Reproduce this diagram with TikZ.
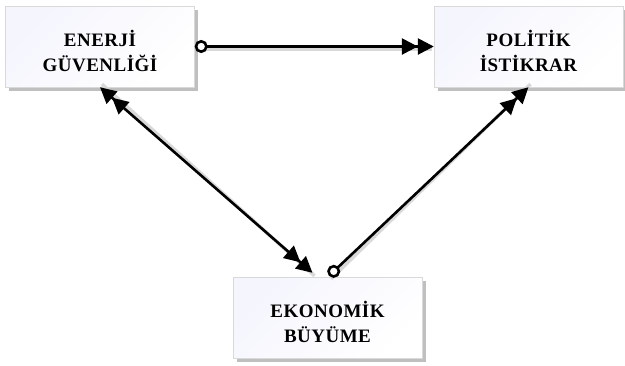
\documentclass[tikz,border=0pt]{standalone}
\usepackage{fontspec}
\setmainfont{Liberation Serif}
\newfontfamily\boxfont[LetterSpace=2.5]{Liberation Serif}
\usetikzlibrary{arrows.meta,shadows}
\newcommand{\asagi}[1]{\raisebox{-4pt}[\height][\depth]{#1}}

\tikzset{
	kutu/.style={rectangle, draw=black!15, line width=0.4pt,
		minimum width=189pt, minimum height=81pt, align=center,
		top color=black!16!blue!4!white, bottom color=white, shading angle=45,
		drop shadow={shadow xshift=3.5pt, shadow yshift=-3.5pt, fill=black!45, opacity=0.55},
		font={\boxfont\bfseries\fontsize{19}{25}\selectfont}},
	ok/.style={line width=2.6pt, draw=black},
	golge/.style={line width=3.5pt, draw=black!15},
	halkauc/.style={{Circle[open,fill=white,length=13pt,width=13pt]}-{Triangle[length=16pt,width=16pt]Triangle[length=16pt,width=16pt]}},
	ikiuc/.style={{Triangle[length=16pt,width=16pt]Triangle[length=16pt,width=16pt]}-{Triangle[length=16pt,width=16pt]Triangle[length=16pt,width=16pt]}}
}

\begin{document}
\begin{tikzpicture}[x=1pt, y=-1pt]
			%%%%% START %%%%%
			\useasboundingbox[fill=white] (0, 0) rectangle (625, 365);
			
			\node[kutu] (enerji) at (100, 46.5) {\asagi{ENERJİ}\\\asagi{GÜVENLİĞİ}};
			\node[kutu] (politik) at (528.5, 46.5) {\asagi{POLİTİK}\\\asagi{İSTİKRAR}};
			\node[kutu] (ekonomi) at (327.5, 317.5) {\asagi{EKONOMİK}\\\asagi{BÜYÜME}};
			
			\coordinate (ucsol) at ([xshift=-15pt, yshift=4pt]ekonomi.north);
			\coordinate (ucsag) at ([xshift=1.5pt, yshift=1pt]ekonomi.north);
			
			% arrow shadows
			\begin{scope}[transform canvas={shift={(2pt,-3pt)}}]
				\draw[golge] ([xshift=10pt]enerji.east) -- ([xshift=-4pt]politik.west);
				\draw[golge] ([yshift=6pt]enerji.south) -- (ucsol);
				\draw[golge] (ucsag) -- ([yshift=6pt]politik.south);
			\end{scope}
			
			\draw[ok, halkauc] (enerji.east) -- (politik.west);
			\draw[ok, ikiuc] (enerji.south) -- (ucsol);
			\draw[ok, halkauc] (ucsag) -- (politik.south);
			
			%%%%% END %%%%%
\end{tikzpicture}
\end{document}
